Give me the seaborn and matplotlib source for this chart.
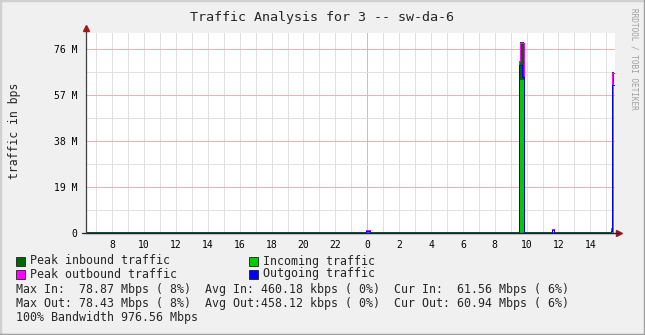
import numpy as np
import pandas as pd
import matplotlib
matplotlib.use("Agg")
import matplotlib.pyplot as plt
from matplotlib.patches import Rectangle
from matplotlib.lines import Line2D
import seaborn as sns

# ---------------- data (step starts, hours since day-1 00:00; values in Mbps) ----
t_hours  = [6.35, 20.6, 23.95, 24.15, 33.50, 33.60, 33.70, 33.82, 35.62, 35.72, 39.30, 39.38, 39.48]
peak_in  = [0.3, 0.4, 0.8, 0.3, 70.0, 78.87, 78.87, 0.3, 0.6, 0.3, 2.0, 66.5, 66.5]
incoming = [0.1, 0.2, 0.4, 0.1, 18.6, 63.0, 63.0, 0.1, 0.3, 0.1, 1.0, 61.56, 61.56]
peak_out = [0.05, 0.2, 1.2, 0.05, 71.0, 78.43, 78.43, 0.05, 1.5, 0.05, 2.0, 66.2, 66.2]
outgoing = [0.05, 0.2, 1.0, 0.05, 69.4, 69.4, 64.5, 0.05, 1.2, 0.05, 0.8, 60.94, 60.94]

y_ticks = [0, 19, 38, 57, 76]
y_tick_labels = ["0", "19 M", "38 M", "57 M", "76 M"]
x_tick_hours = [8, 10, 12, 14, 16, 18, 20, 22, 24, 26, 28, 30, 32, 34, 36, 38]
x_tick_labels = ["8", "10", "12", "14", "16", "18", "20", "22", "0", "2", "4", "6", "8", "10", "12", "14"]

title = "Traffic Analysis for 3 -- sw-da-6"
legend_names = ["Peak inbound traffic", "Incoming traffic", "Peak outbound traffic", "Outgoing traffic"]
stat_lines = [
    "Max In:  78.87 Mbps ( 8%)  Avg In: 460.18 kbps ( 0%)  Cur In:  61.56 Mbps ( 6%)",
    "Max Out: 78.43 Mbps ( 8%)  Avg Out:458.12 kbps ( 0%)  Cur Out: 60.94 Mbps ( 6%)",
    "100% Bandwidth 976.56 Mbps",
]

# ---------------- style ----------------
sns.set_style("white")
plt.rcParams["font.family"] = ["DejaVu Sans Mono", "DejaVu Sans"]

C_PEAKIN = "#006600"
C_IN = "#00CC00"
C_PEAKOUT = "#FF00FF"
C_OUT = "#0000FF"
BG = "#F0F0F0"
MGRID = "#F0B0B0"
GRID = "#E0E0E0"

W, H = 645, 335
fig = plt.figure(figsize=(W / 100, H / 100), dpi=100, facecolor=BG)
L, R, T, B = 86, 615, 33, 233
ax = fig.add_axes([L / W, 1 - B / H, (R - L) / W, (B - T) / H])
ax.set_facecolor("white")
ax.grid(False)

XMIN, XMAX = 6.35, 39.55
YMAX = 82.6
ax.set_xlim(XMIN, XMAX)
ax.set_ylim(0, YMAX)

# grid (crisp 1px lines like rrdtool)
for h in range(7, 40):
    ax.axvline(h, color=MGRID if h % 24 == 0 else GRID, lw=0.72, zorder=0.5, antialiased=False)
for k in range(1, 9):
    v = 9.5 * k
    ax.axhline(v, color=MGRID if k % 2 == 0 else GRID, lw=0.72,
               zorder=0.5 if k % 2 else 0.6, antialiased=False)

df = pd.DataFrame({"t": t_hours, "peak_in": peak_in, "incoming": incoming,
                   "peak_out": peak_out, "outgoing": outgoing})

ax.fill_between(df["t"], df["peak_in"], step="post", color=C_PEAKIN, lw=0, zorder=2, antialiased=False)
ax.fill_between(df["t"], df["incoming"], step="post", color=C_IN, lw=0, zorder=3, antialiased=False)
sns.lineplot(data=df, x="t", y="peak_out", drawstyle="steps-post", color=C_PEAKOUT,
             lw=0.72, ax=ax, zorder=4, estimator=None, antialiased=False)
sns.lineplot(data=df, x="t", y="outgoing", drawstyle="steps-post", color=C_OUT,
             lw=0.72, ax=ax, zorder=5, estimator=None, antialiased=False)

# axes / ticks
ax.set_xticks(x_tick_hours)
ax.set_xticklabels(x_tick_labels)
ax.set_yticks(y_ticks)
ax.set_yticklabels(y_tick_labels)
ax.tick_params(axis="both", labelsize=7, colors="black", length=3, width=0.8, pad=3)
ax.tick_params(axis="y", color=MGRID)
ax.tick_params(axis="x", length=0, pad=5)
ax.set_xlabel("")
ax.set_ylabel("")
for s in ["top", "right"]:
    ax.spines[s].set_visible(False)
ax.spines["left"].set_color("#404040")
ax.spines["bottom"].set_color("#202050")
ax.spines["left"].set_linewidth(0.9)
ax.spines["bottom"].set_linewidth(0.9)
ax.spines["left"].set_zorder(6)
ax.spines["bottom"].set_zorder(3.5)

# axis arrows
ax.plot([0, 0], [1.0, 1.02], transform=ax.transAxes, color="#404040", lw=0.9, clip_on=False)
ax.plot([-0.008, 1.007], [0, 0], transform=ax.transAxes, color="#202050", lw=0.9, clip_on=False, zorder=3.5)
ax.plot([0], [1.025], marker="^", ms=4, color="#A01818", transform=ax.transAxes, clip_on=False)
ax.plot([1.008], [0], marker=">", ms=4, color="#A01818", transform=ax.transAxes, clip_on=False)

# texts
fig.text(322 / W, 1 - 17 / H, title, ha="center", va="center", fontsize=9.6)
fig.text(15 / W, 1 - 131 / H, "traffic in bps", rotation=90, ha="center", va="center", fontsize=8.3)
fig.text(634 / W, 1 - 8 / H, "RRDTOOL / TOBI OETIKER", rotation=270, ha="center", va="top",
         fontsize=5.6, color="#A0A0A0")

# legend
def swatch(x, y, c):
    fig.patches.append(Rectangle(((x) / W, 1 - (y + 4.5) / H), 9 / W, 9 / H,
                                 transform=fig.transFigure, facecolor=c,
                                 edgecolor="#202020", lw=0.6, figure=fig))

rows = [261, 274]
swatch(16, rows[0], C_PEAKIN)
fig.text(30 / W, 1 - rows[0] / H, legend_names[0], va="center", fontsize=8.4)
swatch(249, rows[0], C_IN)
fig.text(263 / W, 1 - rows[0] / H, legend_names[1], va="center", fontsize=8.4)
swatch(16, rows[1], C_PEAKOUT)
fig.text(30 / W, 1 - rows[1] / H, legend_names[2], va="center", fontsize=8.4)
swatch(249, rows[1], C_OUT)
fig.text(263 / W, 1 - rows[1] / H, legend_names[3], va="center", fontsize=8.4)

for i, line in enumerate(stat_lines):
    fig.text(16 / W, 1 - (289 + 14 * i) / H, line, va="center", fontsize=8.4)

# frame
fig.lines.append(Line2D([0, 0, 1], [0, 1, 1], transform=fig.transFigure, color="#D0D0D0", lw=2.5))
fig.lines.append(Line2D([0, 1, 1], [0, 0, 1], transform=fig.transFigure, color="#A0A0A0", lw=2.5))

fig.savefig("out.png", dpi=100, facecolor=BG)
